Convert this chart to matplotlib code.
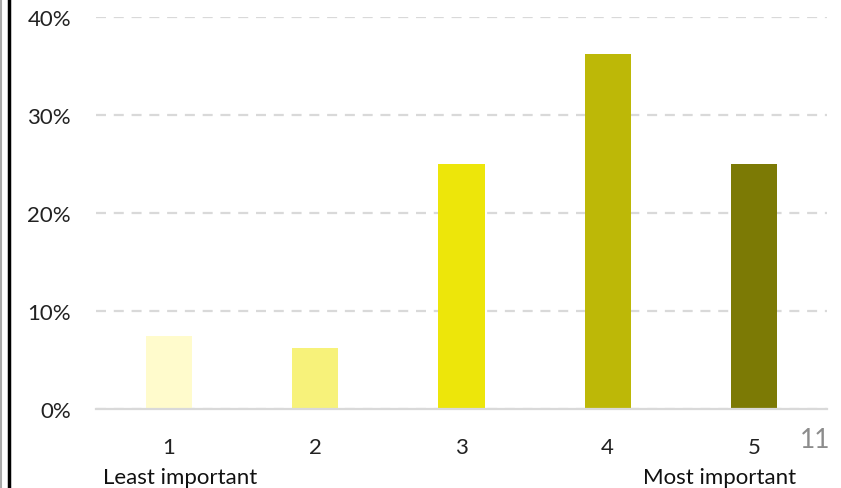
import matplotlib.pyplot as plt
from matplotlib.lines import Line2D
import matplotlib.ticker as tick

# survey answers, share of respondents per rating
ratings = ["1", "2", "3", "4", "5"]
shares = [0.075, 0.0625, 0.25, 0.3625, 0.25]
colors = ["#FFFBCC", "#F7F27A", "#EDE60A", "#BDB807", "#7C7A05"]
y_ticks = [0, 0.1, 0.2, 0.3, 0.4]

plt.rcParams["font.family"] = ["Lato", "DejaVu Sans"]

fig = plt.figure(figsize=(8.41, 4.89), dpi=100)
ax = fig.add_axes([96 / 841, (489 - 410) / 489, (827 - 96) / 841, (410 - 18) / 489])

x = range(len(ratings))
ax.bar(x, shares, width=0.315, color=colors, zorder=3)

ax.set_xlim(-0.5, len(ratings) - 0.5)
ax.set_ylim(0, 0.4)
ax.set_yticks(y_ticks)
ax.yaxis.set_major_formatter(tick.PercentFormatter(1.0, decimals=0))
ax.set_xticks(list(x))
ax.set_xticklabels(ratings)
ax.tick_params(axis="both", length=0, labelsize=16, colors="#222222")
ax.tick_params(axis="y", pad=18)
ax.tick_params(axis="x", pad=20)

ax.grid(axis="y", color="#D9D9D9", linestyle=(0, (4.5, 3.5)), linewidth=1.6, zorder=0)
for side in ["top", "right", "left"]:
    ax.spines[side].set_visible(False)
ax.spines["bottom"].set_color("#D9D9D9")
ax.spines["bottom"].set_linewidth(1.6)
ax.spines["bottom"].set_zorder(4)

# end labels under the scale
fig.text(180 / 841, 1 - 478 / 489, "Least important", ha="center", va="center",
         fontsize=16, color="#111111")
fig.text(720 / 841, 1 - 478 / 489, "Most important", ha="center", va="center",
         fontsize=16, color="#111111")
# slide number
fig.text(815 / 841, 1 - 441 / 489, "11", ha="center", va="center",
         fontsize=19, color="#8C8C8C")

# frame lines at the left edge
fig.add_artist(Line2D([1 / 841, 1 / 841], [0, 1], transform=fig.transFigure,
                      color="#AAAAAA", linewidth=1.5))
fig.add_artist(Line2D([9 / 841, 9 / 841], [0, 1], transform=fig.transFigure,
                      color="black", linewidth=2.5))

fig.savefig("out.png", dpi=100)
plt.close(fig)
